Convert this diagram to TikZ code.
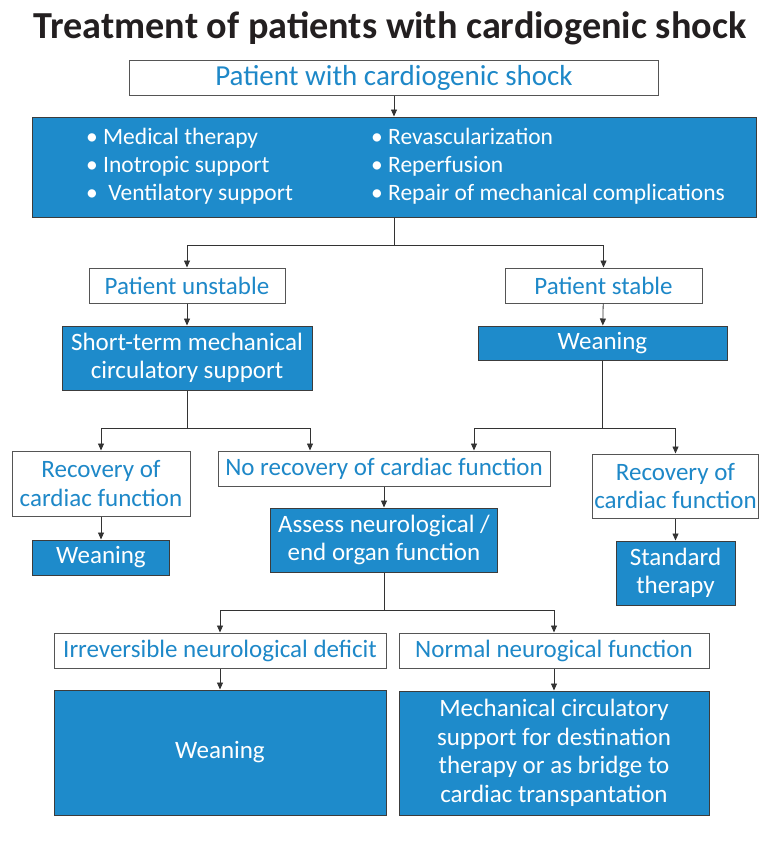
\documentclass[tikz,border=0pt]{standalone}
\usepackage{fontspec}
\setmainfont{Carlito}
\usetikzlibrary{arrows.meta}
\definecolor{boxblue}{HTML}{1E8BCB}
\definecolor{textblue}{HTML}{1E88C8}
\definecolor{edgegray}{HTML}{555555}
\definecolor{titleblack}{HTML}{231F20}

\begin{document}
\begin{tikzpicture}[x=1pt, y=-1pt,
    whitebox/.style={draw=edgegray, line width=1pt, fill=white, text=textblue,
      inner sep=0pt, align=center, font=\fontsize{25}{28.5}\selectfont},
    bluebox/.style={draw=edgegray!70!black, line width=1pt, fill=boxblue, text=white,
      inner sep=0pt, align=center, font=\fontsize{25}{28.5}\selectfont},
    arr/.style={-{Triangle[length=7pt, width=6pt]}, line width=0.8pt, draw=black!80},
    link/.style={line width=0.8pt, draw=black!80}]
      \useasboundingbox (0,0) rectangle (768,841);

      \node[font=\bfseries\fontsize{38.2}{40}\selectfont, text=titleblack] (title) at (390,28) {Treatment of patients with cardiogenic shock};

      \node[whitebox, minimum width=529pt, minimum height=35pt, font=\fontsize{29}{32}\selectfont] (shock) at (394,77.5) {Patient with cardiogenic shock};
      \node[bluebox, minimum width=724pt, minimum height=100pt, font=\fontsize{23.5}{28}\selectfont] (treat) at (394,167)
        {\begin{tabular}{@{\hspace{23pt}}p{285pt}@{}l@{}}
          \textbullet\ Medical therapy & \textbullet\ Revascularization\\
          \textbullet\ Inotropic support & \textbullet\ Reperfusion\\
          \textbullet\ \ Ventilatory support & \textbullet\ Repair of mechanical complications
        \end{tabular}};

      \node[whitebox, minimum width=196pt, minimum height=35pt] (unstable) at (187,285.5) {Patient unstable};
      \node[whitebox, minimum width=197pt, minimum height=35pt] (stable) at (603.5,285.5) {Patient stable};
      \node[bluebox, minimum width=250pt, minimum height=64pt] (stmcs) at (187,358) {Short-term mechanical\\circulatory support};
      \node[bluebox, minimum width=249pt, minimum height=34pt] (wean1) at (602.5,343) {Weaning};

      \node[whitebox, minimum width=178pt, minimum height=65pt] (recL) at (101,483.5) {Recovery of\\cardiac function};
      \node[whitebox, minimum width=332pt, minimum height=35pt] (norec) at (384,468.5) {No recovery of cardiac function};
      \node[whitebox, minimum width=166pt, minimum height=64pt] (recR) at (675.5,486) {Recovery of\\cardiac function};

      \node[bluebox, minimum width=137pt, minimum height=35pt] (wean2) at (101,557.5) {Weaning};
      \node[bluebox, minimum width=227pt, minimum height=64pt] (assess) at (384,540) {Assess neurological /\\end organ function};
      \node[bluebox, minimum width=119pt, minimum height=64pt] (std) at (675.5,573) {Standard\\therapy};

      \node[whitebox, minimum width=332pt, minimum height=35pt] (irrev) at (220,650.5) {Irreversible neurological deficit};
      \node[whitebox, minimum width=310pt, minimum height=35pt] (normal) at (554,650.5) {Normal neurogical function};
      \node[bluebox, minimum width=332pt, minimum height=125pt] (wean3) at (220,752.5) {Weaning};
      \node[bluebox, minimum width=310pt, minimum height=124pt] (mcs) at (554,753) {Mechanical circulatory\\support for destination\\therapy or as bridge to\\cardiac transpantation};

      \coordinate (split1) at (394,245);
      \coordinate (split2) at (187,428);
      \coordinate (split3) at (602.5,428);
      \coordinate (split4) at (384,610);

      \draw[arr] (shock) -- (treat);
      \draw[link] (treat) -- (split1);
      \draw[arr] (split1) -| (unstable);
      \draw[arr] (split1) -| (stable);
      \draw[arr] (unstable) -- (stmcs);
      \draw[arr] (stable) -- (wean1);

      \draw[link] (stmcs) -- (split2);
      \draw[arr] (split2) -| (recL);
      \draw[arr] (split2) -| ([xshift=-74pt]norec.north);
      \draw[link] (wean1) -- (split3);
      \draw[arr] (split3) -| ([xshift=90pt]norec.north);
      \draw[arr] (split3) -| (recR);

      \draw[arr] (recL) -- (wean2);
      \draw[arr] (norec) -- (assess);
      \draw[arr] (recR) -- (std);

      \draw[link] (assess) -- (split4);
      \draw[arr] (split4) -| (irrev);
      \draw[arr] (split4) -| (normal);
      \draw[arr] (irrev) -- (wean3);
      \draw[arr] (normal) -- (mcs);

   \end{tikzpicture}
\end{document}
